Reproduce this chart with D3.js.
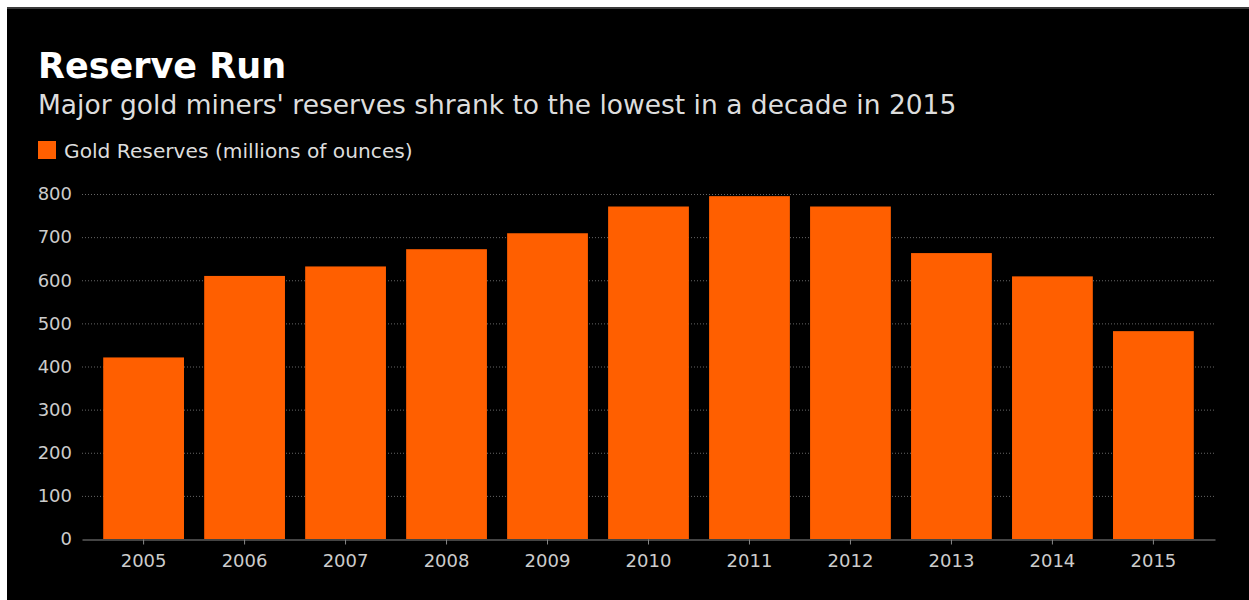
<!DOCTYPE html>
<html>
<head>
<meta charset="utf-8">
<script src="https://cdn.jsdelivr.net/npm/d3@7"></script>
<style>
  html, body { margin: 0; padding: 0; background: #fff; }
  svg { display: block; }
</style>
</head>
<body>
<svg id="chart" width="1249" height="600"></svg>
<script>
// Gold reserves held by major miners, millions of ounces
const years = ["2005", "2006", "2007", "2008", "2009", "2010", "2011", "2012", "2013", "2014", "2015"];
const reserves = [421, 610, 632, 672, 709, 771, 795, 771, 663, 609, 482];
const yTicks = [0, 100, 200, 300, 400, 500, 600, 700, 800];

const title = "Reserve Run";
const subtitle = "Major gold miners' reserves shrank to the lowest in a decade in 2015";
const legendLabel = "Gold Reserves (millions of ounces)";

const W = 1249, H = 600;
const orange = "#ff5f00";
const font = "'DejaVu Sans', sans-serif";

const svg = d3.select("#chart");

// panel
svg.append("rect").attr("x", 7).attr("y", 7).attr("width", W - 7).attr("height", H - 7).attr("fill", "#3a3a3a");
svg.append("rect").attr("x", 7).attr("y", 9).attr("width", W - 7).attr("height", H - 9).attr("fill", "#000");

// headings
svg.append("text").attr("x", 38).attr("y", 78)
  .attr("font-family", font).attr("font-weight", "bold").attr("font-size", 35)
  .attr("fill", "#fff").text(title);
svg.append("text").attr("x", 38).attr("y", 114)
  .attr("font-family", font).attr("font-size", 26.5)
  .attr("fill", "#ddd").text(subtitle);

// legend
svg.append("rect").attr("x", 38).attr("y", 141).attr("width", 18).attr("height", 18).attr("fill", orange);
svg.append("text").attr("x", 64).attr("y", 158)
  .attr("font-family", font).attr("font-size", 20.2)
  .attr("fill", "#ddd").text(legendLabel);

// scales
const x = d3.scaleBand().domain(years).range([82, 1215]).paddingInner(0.2).paddingOuter(0.21);
const y = d3.scaleLinear().domain([0, 800]).range([539, 194]);

// gridlines
svg.append("g").selectAll("line").data(yTicks.filter(d => d > 0)).join("line")
  .attr("x1", 82).attr("x2", 1215)
  .attr("y1", d => y(d) + 0.5).attr("y2", d => y(d) + 0.5)
  .attr("stroke", "#666").attr("stroke-width", 1).attr("stroke-dasharray", "1,2");

// bars
svg.append("g").selectAll("rect").data(years).join("rect")
  .attr("x", d => x(d)).attr("width", x.bandwidth())
  .attr("y", (d, i) => y(reserves[i])).attr("height", (d, i) => y(0) - y(reserves[i]))
  .attr("fill", orange);

// y axis labels
const yAxis = svg.append("g").attr("transform", "translate(82,0)")
  .call(d3.axisLeft(y).tickValues(yTicks).tickSize(0).tickPadding(10));
yAxis.select(".domain").remove();
yAxis.selectAll("text").attr("font-family", font).attr("font-size", 18).attr("fill", "#ccc");

// x axis
const xAxis = svg.append("g").attr("transform", "translate(0,539.5)")
  .call(d3.axisBottom(x).tickSize(5).tickSizeOuter(0).tickPadding(10));
xAxis.select(".domain").attr("stroke", "#888");
xAxis.selectAll(".tick line").attr("stroke", "#888");
xAxis.selectAll("text").attr("font-family", font).attr("font-size", 18).attr("fill", "#ccc");
</script>
</body>
</html>
